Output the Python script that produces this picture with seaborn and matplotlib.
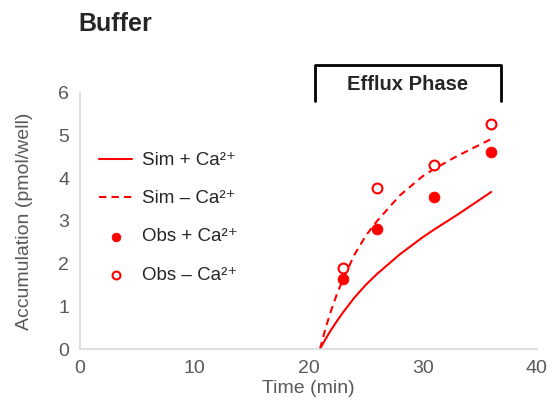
import pandas as pd
import matplotlib.pyplot as plt
import seaborn as sns

# simulated curves
sim_time = [21, 21.5, 22, 22.5, 23, 24, 25, 26, 28, 30, 31, 33, 36]
sim_plus = [0, 0.24, 0.46, 0.66, 0.85, 1.2, 1.5, 1.76, 2.22, 2.62, 2.8, 3.14, 3.68]
sim_minus = [0, 0.5, 0.92, 1.3, 1.62, 2.2, 2.65, 3.0, 3.6, 4.05, 4.22, 4.52, 4.92]

# observed points
obs_time = [23, 26, 31, 36]
obs_plus = [1.63, 2.81, 3.57, 4.61]
obs_minus = [1.9, 3.77, 4.31, 5.27]

sim = pd.DataFrame({"time": sim_time, "plus": sim_plus, "minus": sim_minus})
obs = pd.DataFrame({"time": obs_time, "plus": obs_plus, "minus": obs_minus})

sns.set_style("white")
plt.rcParams["font.family"] = ["Liberation Sans", "DejaVu Sans"]

red = "#ff0000"
grey = "#595959"

fig = plt.figure(figsize=(5.49, 4.04), dpi=100)
ax = fig.add_axes([0.146, 0.136, 0.832, 0.634])

sns.lineplot(data=sim, x="time", y="plus", ax=ax, color=red, lw=1.5,
             label="Sim + Ca²⁺")
sns.lineplot(data=sim, x="time", y="minus", ax=ax, color=red, lw=1.5,
             linestyle=(0, (3.5, 2.5)), label="Sim – Ca²⁺")
sns.scatterplot(data=obs, x="time", y="plus", ax=ax, color=red, s=60,
                edgecolor=red, label="Obs + Ca²⁺", zorder=3)
sns.scatterplot(data=obs, x="time", y="minus", ax=ax, facecolor="white",
                edgecolor=red, linewidth=1.5, s=50, label="Obs – Ca²⁺",
                zorder=3)

ax.set_xlim(0, 40)
ax.set_ylim(0, 6)
ax.set_xticks([0, 10, 20, 30, 40])
ax.set_yticks(range(7))
ax.tick_params(length=0, labelsize=14, colors=grey, pad=8)
ax.set_xlabel("Time (min)", fontsize=14, color=grey, labelpad=2)
ax.set_ylabel("Accumulation (pmol/well)", fontsize=14, color=grey, labelpad=18)
sns.despine(ax=ax)
for s in ["left", "bottom"]:
    ax.spines[s].set_color("#d9d9d9")
    ax.spines[s].set_linewidth(1.2)

ax.legend(loc="upper left", bbox_to_anchor=(0.005, 0.835), frameon=False,
          fontsize=13.5, handlelength=1.75, handletextpad=0.55,
          labelspacing=1.12, markerscale=0.8)

# efflux phase bracket
ax.plot([20.6, 20.6, 36.85, 36.85], [5.81, 6.66, 6.66, 5.81], color="black",
        lw=2, clip_on=False)
ax.text(28.7, 6.19, "Efflux Phase", fontsize=14.5, fontweight="bold",
        ha="center", va="center")

fig.text(0.142, 0.94, "Buffer", fontsize=18, fontweight="bold",
         ha="left", va="center")

fig.savefig("out.png", dpi=100)
